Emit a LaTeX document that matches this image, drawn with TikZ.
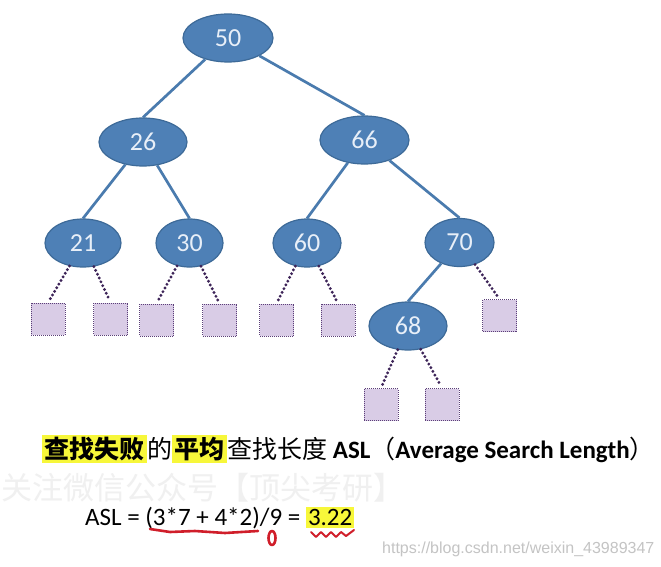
\documentclass[tikz,border=0pt]{standalone}
\usepackage{fontspec}
\setmainfont{Carlito}
\newfontfamily\cjk{Noto Sans CJK SC}
\newfontfamily\urlfont{Liberation Sans}
\usetikzlibrary{shapes.geometric}
\definecolor{nodefill}{HTML}{4E80B6}
\definecolor{nodeedge}{HTML}{3D6A98}
\definecolor{nodetext}{HTML}{E8EFF8}
\definecolor{edgecol}{HTML}{4A7BAE}
\definecolor{leaffill}{HTML}{D9CCE6}
\definecolor{leafedge}{HTML}{5B3F78}
\definecolor{dotcol}{HTML}{3D2458}
\definecolor{hl}{HTML}{F7F73A}
\definecolor{urlgray}{HTML}{C4C4C4}
\definecolor{wmgray}{HTML}{F0F0F0}
\definecolor{pen}{HTML}{D01E2A}
\begin{document}
\begin{tikzpicture}[x=1pt,y=-1pt,
  tn/.style={ellipse, draw=nodeedge, line width=1.2pt, fill=nodefill, text=nodetext,
    font=\fontsize{26}{26}\selectfont, inner sep=0pt, minimum height=48pt},
  leaf/.style={draw=leafedge, densely dotted, line width=1pt, fill=leaffill,
    minimum width=34pt, minimum height=32pt, inner sep=0pt},
  edge/.style={draw=edgecol, line width=2.7pt},
  nul/.style={draw=dotcol, line width=3.2pt, dash pattern=on 0pt off 4.2pt, line cap=round, shorten >=3pt},
  penline/.style={draw=pen, line width=2.6pt, line cap=round, line join=round},
]
\useasboundingbox (0,0) rectangle (661,567);
\fill[white] (0,0) rectangle (661,567);

% watermark
\node[anchor=west, inner sep=0pt, text=wmgray, font=\cjk\fontsize{31}{31}\selectfont] (wm) at (1,488) {关注微信公众号【顶尖考研】};

% tree nodes
\node[tn, minimum width=90pt] (n50) at (228,38) {50};
\node[tn, minimum width=88pt] (n26) at (143,142) {26};
\node[tn, minimum width=89pt] (n66) at (364.5,140) {66};
\node[tn, minimum width=76pt] (n21) at (83,243) {21};
\node[tn, minimum width=67pt] (n30) at (189.5,243) {30};
\node[tn, minimum width=68pt] (n60) at (307,243) {60};
\node[tn, minimum width=69pt] (n70) at (459.5,242.5) {70};
\node[tn, minimum width=78pt] (n68) at (408,326) {68};

% leaves
\node[leaf] (l1) at (48,319) {};
\node[leaf] (l2) at (110.5,319) {};
\node[leaf] (l3) at (156.5,320) {};
\node[leaf] (l4) at (219.5,320) {};
\node[leaf] (l5) at (276.5,320) {};
\node[leaf] (l6) at (338,320) {};
\node[leaf] (l7) at (499.5,315.5) {};
\node[leaf] (l8) at (381,404.5) {};
\node[leaf] (l9) at (442,404.5) {};

% solid edges
\draw[edge] (n50) -- (n26.north);
\draw[edge] (n50) -- (n66.north);
\draw[edge] (n26) -- (n21.north);
\draw[edge] (n26) -- (n30.north);
\draw[edge] (n66) -- (n60.north);
\draw[edge] (n66) -- (n70.north);
\draw[edge] (n70) -- (n68.north);

% dotted edges to failure leaves
\draw[nul] (n21) -- (l1.north);
\draw[nul] (n21) -- (l2.north);
\draw[nul] (n30) -- (l3.north);
\draw[nul] (n30) -- (l4.north);
\draw[nul] (n60) -- (l5.north);
\draw[nul] (n60) -- (l6.north);
\draw[nul] (n70) -- (l7.north);
\draw[nul] (n68) -- (l8.north);
\draw[nul] (n68) -- (l9.north);

% title line
\node[anchor=west, inner sep=0pt, font=\fontsize{25}{25}\selectfont] (title) at (42,449)
  {\setlength\fboxsep{2.5pt}{\cjk\colorbox{hl}{\bfseries 查找失败}的\colorbox{hl}{\bfseries 平均}查找长度} {\bfseries ASL}{\cjk（}{\bfseries Average Search Length}{\cjk）}};

% formula
\node[anchor=west, inner sep=0pt, font=\fontsize{25}{25}\selectfont] (asl) at (85,518)
  {\setlength\fboxsep{2pt}ASL = (3*7 + 4*2)/9 = \colorbox{hl}{3.22}};

% hand annotations
\draw[penline] (150,529) -- (170,532) -- (195,531) -- (225,533) -- (258,531);
\draw[penline] (272,538) ellipse (3.5pt and 7pt);
\draw[penline, line width=2pt] (311,532) -- (316,537) -- (321,532) -- (326,537) -- (331,532) -- (336,537) -- (341,532) -- (346,536) -- (354,530);

% url
\node[anchor=west, inner sep=0pt, text=urlgray, font=\urlfont\fontsize{16}{16}\selectfont] (url) at (382,549) {https://blog.csdn.net/weixin\_43989347};
\end{tikzpicture}
\end{document}
